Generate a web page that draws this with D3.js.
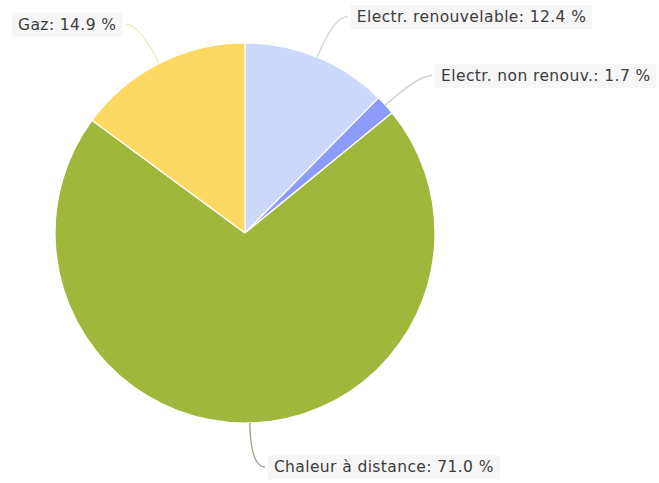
<!DOCTYPE html>
<html>
<head>
<meta charset="utf-8">
<script src="https://cdn.jsdelivr.net/npm/d3@7"></script>
<style>
  body { margin: 0; background: #fff; }
  svg { display: block; }
  .lbl { font-family: "DejaVu Sans", sans-serif; font-size: 15.5px; letter-spacing: 0.4px; fill: #3c3c3c; }
</style>
</head>
<body>
<svg id="chart" width="659" height="483"></svg>
<script>
// data
const categories = ['Electr. renouvelable', 'Electr. non renouv.', 'Chaleur à distance', 'Gaz'];
const shares = [12.4, 1.7, 71.0, 14.9];
const colors = ['#cdd8fd', '#8d9cfb', '#9fb83c', '#fdd964'];
const connectorColors = ['#d6d7dc', '#cdcfd6', '#9aa88a', '#ebebbd'];

// svg config
const width = 659, height = 483;
const cx = 245, cy = 233, radius = 190;
const labelRadius = 234, labelShift = 23;

const svg = d3.select('#chart');
const g = svg.append('g').attr('transform', `translate(${cx},${cy})`);

const data = categories.map((c, i) => ({ name: c, value: shares[i], color: colors[i], conn: connectorColors[i] }));
const pie = d3.pie().sort(null).value(d => d.value);
const arc = d3.arc().innerRadius(0).outerRadius(radius);
const arcs = pie(data);

// label positions
arcs.forEach(d => {
  const a = (d.startAngle + d.endAngle) / 2;
  d.edge = [radius * Math.sin(a), -radius * Math.cos(a)];
  d.bend = [labelRadius * Math.sin(a), -labelRadius * Math.cos(a)];
  d.right = Math.sin(a) >= 0;
  d.anchor = [d.bend[0] + (d.right ? labelShift : -labelShift), d.bend[1]];
});

// slices
g.selectAll('path.slice')
  .data(arcs)
  .enter()
  .append('path')
  .attr('class', 'slice')
  .attr('d', arc)
  .attr('fill', d => d.data.color)
  .attr('stroke', '#fff')
  .attr('stroke-width', 1.2)
  .attr('stroke-linejoin', 'round');

// connectors
g.selectAll('path.conn')
  .data(arcs)
  .enter()
  .append('path')
  .attr('class', 'conn')
  .attr('fill', 'none')
  .attr('stroke', d => d.data.conn)
  .attr('stroke-width', 1.4)
  .attr('d', d => {
    const end = [d.anchor[0] + (d.right ? -9 : 9), d.anchor[1]];
    return `M${d.edge[0]},${d.edge[1]} Q${d.bend[0]},${d.bend[1]} ${end[0]},${end[1]}`;
  });

// labels
const labels = g.selectAll('g.lbl-g')
  .data(arcs)
  .enter()
  .append('g')
  .attr('class', 'lbl-g');

labels.append('rect').attr('fill', '#f6f6f6');
labels.append('text')
  .attr('class', 'lbl')
  .attr('x', d => d.anchor[0])
  .attr('y', d => d.anchor[1])
  .attr('dy', '0.35em')
  .attr('text-anchor', d => d.right ? 'start' : 'end')
  .text(d => `${d.data.name}: ${d.data.value.toFixed(1)} %`);

labels.each(function() {
  const grp = d3.select(this);
  const bb = grp.select('text').node().getBBox();
  grp.select('rect')
    .attr('x', bb.x - 6)
    .attr('y', bb.y - 3)
    .attr('width', bb.width + 12)
    .attr('height', bb.height + 6);
});
</script>
</body>
</html>
